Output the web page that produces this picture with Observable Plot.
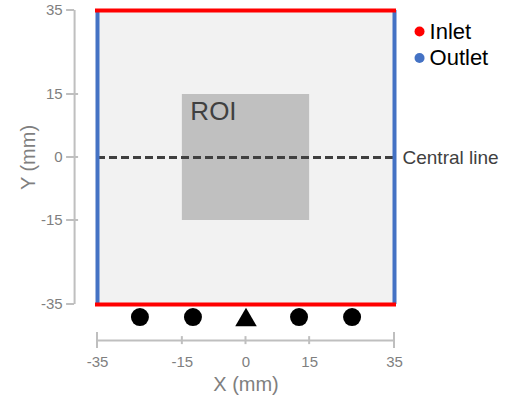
<!DOCTYPE html>
<html>
<head>
<meta charset="utf-8">
<script src="https://cdn.jsdelivr.net/npm/d3@7"></script>
<script src="https://cdn.jsdelivr.net/npm/@observablehq/plot@0.6"></script>
<style>
  html, body { margin: 0; padding: 0; background: #fff; }
  svg { display: block; }
</style>
</head>
<body>
<div id="chart"></div>
<script>
// ---- data ----
const xTicks = [-35, -15, 0, 15, 35];
const yTicks = [-35, -15, 0, 15, 35];
const domainBox = [{x1: -35, x2: 35, y1: -35, y2: 35}];
const roiBox = [{x1: -15, x2: 15, y1: -15, y2: 15, label: "ROI"}];
const inletY = [35, -35];
const outletX = [-35, 35];
const centralLineY = [0];
const sensorX = [-25, -12.5, 12.5, 25];
const sensorY = -38;
const sourceX = [0];
const legendLabels = ["Inlet", "Outlet"];
const legendColors = ["#ff0000", "#4472c4"];

// ---- layout (data-unit placements for chrome) ----
const yAxisX = -40.4, xAxisY = -43.6;
const axisColor = "#bfbfbf", labelColor = "#7f7f7f";
const font = "Liberation Sans, Arial, sans-serif";

const chart = Plot.plot({
  width: 507,
  height: 401,
  marginLeft: 97,
  marginRight: 113,
  marginTop: 10,
  marginBottom: 97,
  x: {domain: [-35, 35], axis: null},
  y: {domain: [-35, 35], axis: null},
  style: {fontFamily: font, background: "#fff", overflow: "visible"},
  marks: [
    Plot.rect(domainBox, {x1: "x1", x2: "x2", y1: "y1", y2: "y2", fill: "#f2f2f2"}),
    Plot.rect(roiBox, {x1: "x1", x2: "x2", y1: "y1", y2: "y2", fill: "#c0c0c0"}),
    Plot.text(roiBox, {x: "x1", y: "y2", text: "label", textAnchor: "start", dx: 8, dy: 17, fontSize: 26, fill: "#404040"}),
    Plot.ruleY(centralLineY, {x1: -35, x2: 35, stroke: "#404040", strokeWidth: 3, strokeDasharray: "8,4"}),
    Plot.text(centralLineY, {y: d => d, x: 35, text: () => "Central line", textAnchor: "start", dx: 8, fontSize: 19, fill: "#404040"}),
    Plot.ruleX(outletX, {y1: -35, y2: 35, stroke: "#4472c4", strokeWidth: 4}),
    Plot.ruleY(inletY, {x1: -35, x2: 35, stroke: "#ff0000", strokeWidth: 4, insetLeft: -2, insetRight: -2}),
    Plot.dot(sensorX, {x: d => d, y: () => sensorY, r: 9, fill: "black"}),
    Plot.dot(sourceX, {x: d => d, y: () => sensorY, r: 8, symbol: "triangle", fill: "black", dy: 3}),
    // y axis
    Plot.ruleX([yAxisX], {y1: -35, y2: 35, stroke: axisColor, strokeWidth: 2}),
    Plot.text(yTicks, {y: d => d, x: yAxisX, text: d => String(d), textAnchor: "end", dx: -12, fontSize: 15, fill: labelColor}),
    Plot.text(["Y (mm)"], {x: -51.2, y: 0, text: d => d, rotate: -90, fontSize: 20, fill: labelColor}),
    // x axis
    Plot.ruleY([xAxisY], {x1: -35, x2: 35, stroke: axisColor, strokeWidth: 2}),
    Plot.text(xTicks, {x: d => d, y: xAxisY, text: d => String(d), dy: 22, fontSize: 15, fill: labelColor}),
    Plot.text(["X (mm)"], {x: 0, y: xAxisY, text: d => d, dy: 44, fontSize: 20, fill: labelColor}),
    // legend
    Plot.dot(legendLabels, {x: 40.9, y: (d, i) => 30 - i * 6.3, r: 5, fill: (d, i) => legendColors[i]}),
    Plot.text(legendLabels, {x: 40.9, y: (d, i) => 30 - i * 6.3, text: d => d, textAnchor: "start", dx: 10, fontSize: 22, fill: "black"})
  ]
});

// tick marks on the offset axes, positioned with Plot's own scales
const sx = chart.scale("x"), sy = chart.scale("y");
const svg = d3.select(chart);
const g = svg.append("g").attr("stroke", axisColor).attr("stroke-width", 2);
const yx = sx.apply(yAxisX);
yTicks.forEach(t => {
  const end = (t === 35 || t === -35);
  const py = sy.apply(t);
  g.append("line").attr("x1", yx - 8).attr("x2", end ? yx : yx + 4).attr("y1", py).attr("y2", py);
});
const xy = sy.apply(xAxisY);
xTicks.forEach(t => {
  const end = (t === 35 || t === -35);
  const px = sx.apply(t);
  g.append("line").attr("x1", px).attr("x2", px).attr("y1", end ? xy - 8 : xy - 4).attr("y2", end ? xy + 8 : xy + 4);
});
document.getElementById("chart").appendChild(chart);
</script>
</body>
</html>
